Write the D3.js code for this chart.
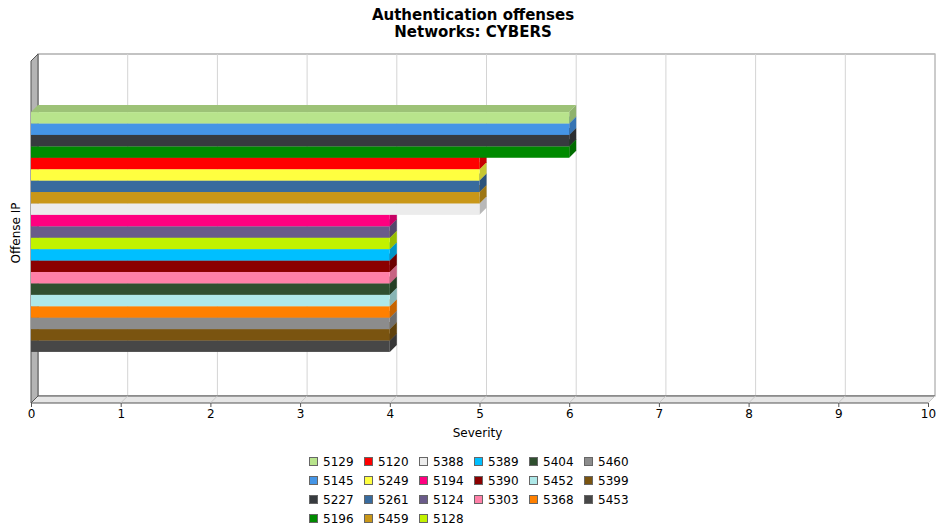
<!DOCTYPE html>
<html>
<head>
<meta charset="utf-8">
<script src="https://cdn.jsdelivr.net/npm/d3@7"></script>
<style>
  body { margin: 0; background: #fff; }
  text { font-family: 'DejaVu Sans', sans-serif; fill: #000; }
</style>
</head>
<body>
<div id="container"></div>
<script>
const WIDTH = 936;
const HEIGHT = 531;

// series in drawing order (top to bottom)
const seriesNames = [
  '5129', '5145', '5227', '5196',
  '5120', '5249', '5261', '5459',
  '5388', '5194', '5124', '5128',
  '5389', '5390', '5303',
  '5404', '5452', '5368',
  '5460', '5399', '5453',
];
const severities = [6, 6, 6, 6, 5, 5, 5, 5, 5, 4, 4, 4, 4, 4, 4, 4, 4, 4, 4, 4, 4];
const seriesColors = [
  '#b8e48c', '#4595e6', '#373b3f', '#008a00',
  '#ff0000', '#ffff40', '#386b9e', '#c99718',
  '#ececec', '#ff0080', '#6a5b8a', '#c2f200',
  '#00bfff', '#8b0000', '#ff80a8',
  '#2f4f2f', '#aee8e8', '#ff8000',
  '#8c8c8c', '#7a5410', '#474747',
];
const categories = [''];
const xTicks = [0, 1, 2, 3, 4, 5, 6, 7, 8, 9, 10];

const DEPTH = 7;
const front = { left: 31, right: 928, top: 61, bottom: 403 };

const svg = d3
  .select('#container')
  .append('svg')
  .attr('width', WIDTH)
  .attr('height', HEIGHT);

const x = d3.scaleLinear().domain([0, 10]).range([front.left, front.right]);

const yCat = d3
  .scaleBand()
  .domain(categories)
  .range([front.top, front.bottom])
  .paddingOuter(0.213);

const ySeries = d3
  .scaleBand()
  .domain(seriesNames)
  .range([0, yCat.bandwidth()]);

const color = d3.scaleOrdinal().domain(seriesNames).range(seriesColors);

// title
[['Authentication offenses', 20], ['Networks: CYBERS', 37]].forEach(([t, y]) => {
  svg
    .append('text')
    .attr('x', 473)
    .attr('y', y)
    .attr('text-anchor', 'middle')
    .style('font-size', '15px')
    .style('font-weight', 'bold')
    .text(t);
});

// back wall
svg
  .append('rect')
  .attr('x', front.left + DEPTH)
  .attr('y', front.top - DEPTH)
  .attr('width', front.right - front.left)
  .attr('height', front.bottom - front.top)
  .attr('fill', '#fff')
  .attr('stroke', '#888')
  .attr('stroke-width', 1);

// grid lines on back wall
svg
  .append('g')
  .selectAll('line')
  .data(xTicks.slice(1))
  .enter()
  .append('line')
  .attr('x1', (d) => x(d) + DEPTH)
  .attr('x2', (d) => x(d) + DEPTH)
  .attr('y1', front.top - DEPTH)
  .attr('y2', front.bottom - DEPTH)
  .attr('stroke', '#d4d4d4')
  .attr('stroke-width', 1);

// left wall
svg
  .append('path')
  .attr(
    'd',
    `M${front.left},${front.top} L${front.left + DEPTH},${front.top - DEPTH} ` +
      `L${front.left + DEPTH},${front.bottom - DEPTH} L${front.left},${front.bottom} Z`
  )
  .attr('fill', '#b4b4b4')
  .attr('stroke', '#555')
  .attr('stroke-width', 1);

// floor
svg
  .append('path')
  .attr(
    'd',
    `M${front.left},${front.bottom} L${front.left + DEPTH},${front.bottom - DEPTH} ` +
      `L${front.right + DEPTH},${front.bottom - DEPTH} L${front.right},${front.bottom} Z`
  )
  .attr('fill', '#e6e6e6')
  .attr('stroke', '#555')
  .attr('stroke-width', 1);

svg
  .append('g')
  .selectAll('line')
  .data(xTicks.slice(1))
  .enter()
  .append('line')
  .attr('x1', (d) => x(d))
  .attr('x2', (d) => x(d) + DEPTH)
  .attr('y1', front.bottom)
  .attr('y2', front.bottom - DEPTH)
  .attr('stroke', '#c8c8c8');

// bars, drawn bottom-up so upper bars cover faces of lower ones
const shade = (c, k) => d3.color(c).darker(k).formatHex();
const barData = seriesNames
  .map((name, i) => ({ name, value: severities[i] }))
  .reverse();

const bar = svg
  .append('g')
  .selectAll('g')
  .data(barData)
  .enter()
  .append('g');

const y0 = (d) => yCat('') + ySeries(d.name);
const y1 = (d) => y0(d) + ySeries.bandwidth();

bar
  .append('path')
  .attr('d', (d) => {
    const xl = x(0), xr = x(d.value), t = y0(d);
    return `M${xl},${t} L${xl + DEPTH},${t - DEPTH} L${xr + DEPTH},${t - DEPTH} L${xr},${t} Z`;
  })
  .attr('fill', (d) => shade(color(d.name), 0.45));

bar
  .append('path')
  .attr('d', (d) => {
    const xr = x(d.value), t = y0(d), b = y1(d);
    return `M${xr},${t} L${xr + DEPTH},${t - DEPTH} L${xr + DEPTH},${b - DEPTH} L${xr},${b} Z`;
  })
  .attr('fill', (d) => shade(color(d.name), 0.7));

bar
  .append('rect')
  .attr('x', x(0))
  .attr('y', y0)
  .attr('width', (d) => x(d.value) - x(0))
  .attr('height', ySeries.bandwidth())
  .attr('fill', (d) => color(d.name));

// x axis
const xAxis = svg
  .append('g')
  .attr('transform', `translate(0, ${front.bottom})`)
  .call(d3.axisBottom(x).tickValues(xTicks).tickSize(4).tickPadding(2));
xAxis.select('.domain').remove();
xAxis.selectAll('text').style('font-size', '12px').style('font-family', "'DejaVu Sans', sans-serif");
xAxis.selectAll('line').attr('stroke', '#555');

svg
  .append('text')
  .attr('x', (front.left + front.right) / 2 - 2)
  .attr('y', 437)
  .attr('text-anchor', 'middle')
  .style('font-size', '12px')
  .text('Severity');

svg
  .append('text')
  .attr('transform', `translate(20, ${(front.top + front.bottom) / 2 + 1}) rotate(-90)`)
  .attr('text-anchor', 'middle')
  .style('font-size', '12px')
  .text('Offense IP');

// legend: 6 columns, filled column by column (first columns get the extra row)
const COLS = 6;
const rows = Math.ceil(seriesNames.length / COLS);
const fullCols = seriesNames.length - COLS * (rows - 1);
const legendPos = (i) => {
  if (i < fullCols * rows) return [Math.floor(i / rows), i % rows];
  const j = i - fullCols * rows;
  return [fullCols + Math.floor(j / (rows - 1)), j % (rows - 1)];
};

const legendItem = svg
  .append('g')
  .attr('transform', 'translate(309, 457)')
  .selectAll('g')
  .data(seriesNames)
  .enter()
  .append('g')
  .attr('transform', (d, i) => {
    const [c, r] = legendPos(i);
    return `translate(${c * 55}, ${r * 19})`;
  });

legendItem
  .append('rect')
  .attr('x', 0.5)
  .attr('y', 0.5)
  .attr('width', 8)
  .attr('height', 8)
  .attr('fill', (d) => color(d))
  .attr('stroke', '#666')
  .attr('stroke-width', 1);

legendItem
  .append('text')
  .attr('x', 14)
  .attr('y', 9)
  .style('font-size', '12px')
  .text((d) => d);
</script>
</body>
</html>
